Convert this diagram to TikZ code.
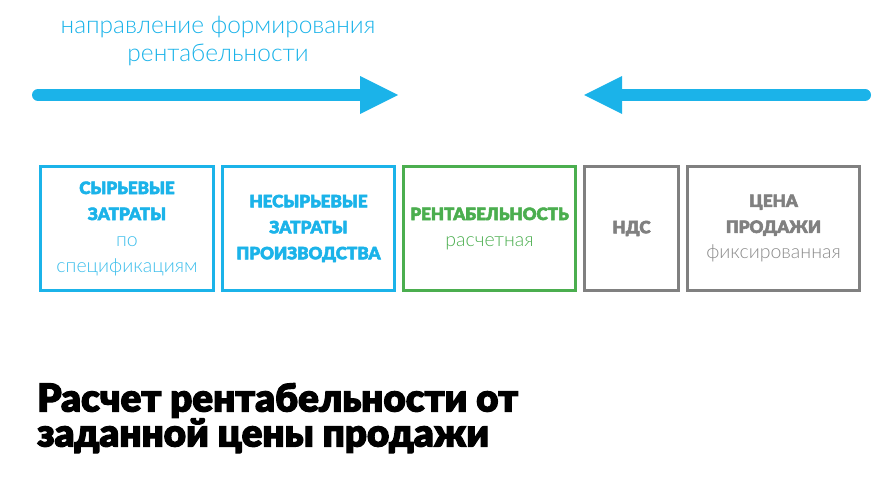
\documentclass[tikz,border=0pt]{standalone}
\usepackage{fontspec}
\setmainfont{Lato}
\newfontfamily\blackf{Lato Black}[FakeBold=3]
\newfontfamily\lightf{Lato Light}
\definecolor{cyanc}{HTML}{1BB3E9}
\definecolor{lcyanc}{HTML}{3DBEEB}
\definecolor{greenc}{HTML}{4BAE4F}
\definecolor{grayc}{HTML}{808080}
\definecolor{lgrayc}{HTML}{8A8A8A}
\newcommand{\bl}[1]{{\blackf\fontsize{17}{26}\selectfont #1}}
\newcommand{\li}[1]{{\lightf\fontsize{19.5}{26}\selectfont #1}}
\begin{document}
\begin{tikzpicture}[x=1pt,y=-1pt,
  box/.style={draw, line width=3pt, inner sep=0pt, minimum height=124pt, align=center,
    font=\fontsize{17}{26}\selectfont},
  arrowline/.style={line width=12pt, line cap=round, cyanc},
]
\useasboundingbox (0,0) rectangle (891,482);
% top title
\node[anchor=base, text=cyanc, font=\lightf\fontsize{24.5}{28}\selectfont] (t1) at (218,33) {направление формирования};
\node[anchor=base, text=cyanc, font=\lightf\fontsize{24.5}{28}\selectfont] (t2) at (218,61) {рентабельности};
% arrows
\coordinate (la) at (38,95);
\coordinate (lb) at (362,95);
\coordinate (ltip) at (398,95);
\draw[arrowline] (la) -- (lb);
\fill[cyanc] (360,76) -- (ltip) -- (360,114) -- cycle;
\coordinate (ra) at (865,95);
\coordinate (rb) at (620,95);
\coordinate (rtip) at (584,95);
\draw[arrowline] (ra) -- (rb);
\fill[cyanc] (622,76) -- (rtip) -- (622,114) -- cycle;
% boxes
\node[box, draw=cyanc, text=cyanc, minimum width=173pt] (b1) at (127,228.5)
  {\bl{СЫРЬЕВЫЕ}\\\bl{ЗАТРАТЫ}\\\li{\color{lcyanc}по}\\\li{\color{lcyanc}спецификациям}};
\node[box, draw=cyanc, text=cyanc, minimum width=172pt] (b2) at (308.5,228.5)
  {\bl{НЕСЫРЬЕВЫЕ}\\\bl{ЗАТРАТЫ}\\\bl{ПРОИЗВОДСТВА}};
\node[box, draw=greenc, text=greenc, minimum width=172pt] (b3) at (489.5,228.5)
  {\bl{РЕНТАБЕЛЬНОСТЬ}\\\li{расчетная}};
\node[box, draw=grayc, text=grayc, minimum width=94pt] (b4) at (631.5,228.5)
  {\bl{НДС}};
\node[box, draw=grayc, text=grayc, minimum width=172pt] (b5) at (773.5,228.5)
  {\bl{ЦЕНА}\\\bl{ПРОДАЖИ}\\\li{\color{lgrayc}фиксированная}};
% bottom title
\node[anchor=north west, inner sep=0pt, align=left, font=\blackf\fontsize{38.5}{35}\selectfont] (h) at (37,383)
  {Расчет рентабельности от\\заданной цены продажи};
\end{tikzpicture}
\end{document}
